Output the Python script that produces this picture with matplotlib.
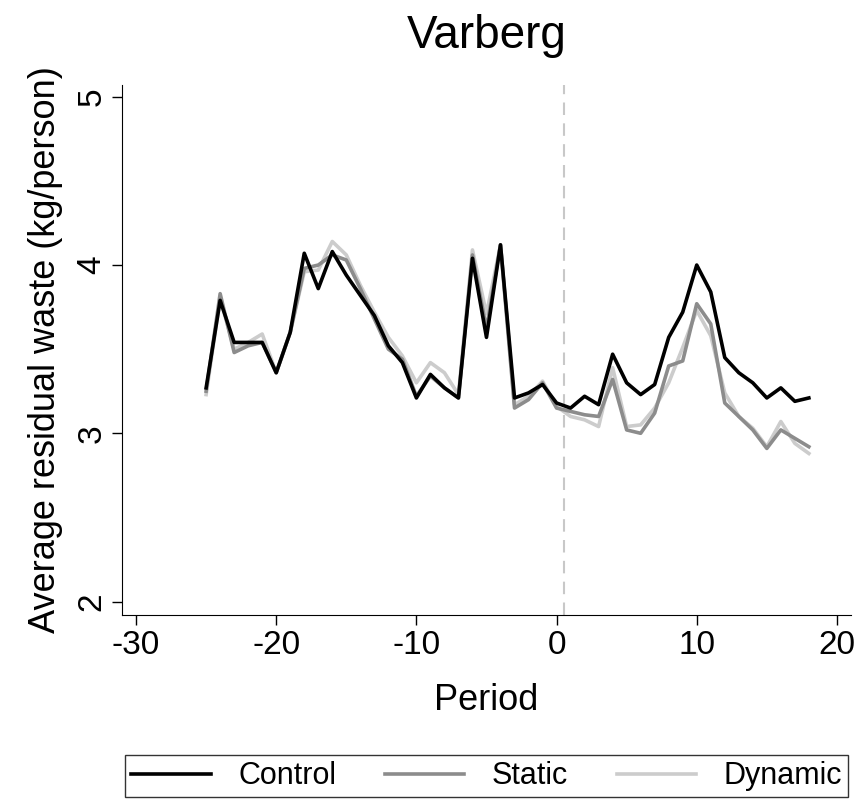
import matplotlib.pyplot as plt

plt.rcParams["font.family"] = ["Liberation Sans", "DejaVu Sans"]
plt.rcParams["axes.unicode_minus"] = False

periods = list(range(-25, 19))

control = [3.27, 3.79, 3.54, 3.54, 3.54, 3.36, 3.60, 4.07, 3.86, 4.08,
           3.94, 3.82, 3.70, 3.52, 3.42, 3.21, 3.35, 3.27, 3.21, 4.04,
           3.57, 4.12, 3.21, 3.24, 3.29, 3.18, 3.15, 3.22, 3.17, 3.47,
           3.30, 3.23, 3.29, 3.57, 3.72, 4.00, 3.84, 3.45, 3.36, 3.30,
           3.21, 3.27, 3.19, 3.21]

static = [3.25, 3.83, 3.48, 3.52, 3.54, 3.36, 3.60, 3.98, 4.00, 4.06,
          4.03, 3.86, 3.68, 3.50, 3.44, 3.22, 3.34, 3.27, 3.21, 4.06,
          3.62, 4.12, 3.15, 3.20, 3.30, 3.15, 3.13, 3.11, 3.10, 3.32,
          3.02, 3.00, 3.12, 3.40, 3.43, 3.77, 3.65, 3.18, 3.10, 3.02,
          2.91, 3.02, 2.97, 2.92]

dynamic = [3.23, 3.80, 3.50, 3.54, 3.59, 3.36, 3.60, 3.96, 3.97, 4.14,
           4.06, 3.88, 3.72, 3.57, 3.46, 3.30, 3.42, 3.36, 3.23, 4.09,
           3.71, 4.12, 3.17, 3.22, 3.31, 3.16, 3.10, 3.08, 3.04, 3.39,
           3.04, 3.05, 3.15, 3.30, 3.51, 3.73, 3.58, 3.24, 3.10, 3.03,
           2.92, 3.07, 2.94, 2.88]

fig = plt.figure(figsize=(8.63, 7.99), dpi=100)
ax = fig.add_axes([0.1414, 0.2303, 0.8446, 0.6633])

ax.axvline(0.5, color="#c8c8c8", linestyle=(0, (6, 4)), linewidth=1.5, zorder=1)
ax.plot(periods, dynamic, color="#cccccc", linewidth=2.6, label="Dynamic", zorder=2)
ax.plot(periods, static, color="#8c8c8c", linewidth=2.6, label="Static", zorder=3)
ax.plot(periods, control, color="black", linewidth=2.6, label="Control", zorder=4)

ax.set_xlim(-31, 21)
ax.set_ylim(1.92, 5.07)
ax.set_xticks([-30, -20, -10, 0, 10, 20])
ax.set_yticks([2, 3, 4, 5])
ax.tick_params(direction="out", length=7, width=1, labelsize=24)
for lbl in ax.get_yticklabels():
    lbl.set_rotation(90)
    lbl.set_va("center")

for side in ["top", "right"]:
    ax.spines[side].set_visible(False)

ax.set_xlabel("Period", fontsize=26, labelpad=16)
ax.set_ylabel("Average residual waste (kg/person)", fontsize=26, labelpad=10)
ax.set_title("Varberg", fontsize=33, pad=27)

handles, labels = ax.get_legend_handles_labels()
order = [2, 1, 0]
leg = fig.legend([handles[i] for i in order], [labels[i] for i in order],
                 loc="lower left", bbox_to_anchor=(0.145, 0.002, 0.838, 0.057),
                 mode="expand", ncol=3, fontsize=22, frameon=True, fancybox=False,
                 edgecolor="black", handlelength=2.6, borderaxespad=0,
                 borderpad=0.2, handletextpad=0.9)
leg.get_frame().set_linewidth(1.0)

plt.savefig("out.png", dpi=100)
